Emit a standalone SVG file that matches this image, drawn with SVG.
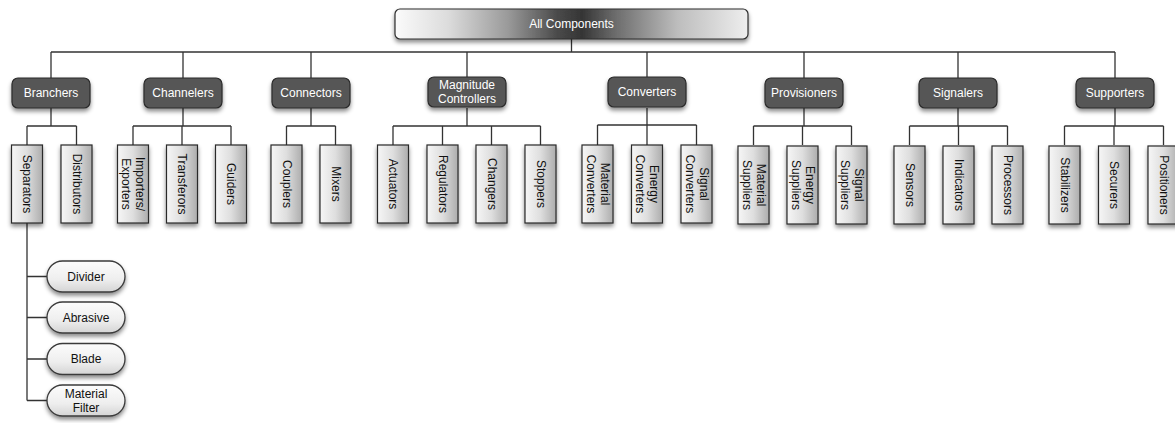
<svg xmlns="http://www.w3.org/2000/svg" width="1175" height="423" viewBox="0 0 1175 423">
<defs>
<linearGradient id="rootGrad" x1="0" y1="0" x2="1" y2="0">
<stop offset="0" stop-color="#fbfbfb"/>
<stop offset="0.15" stop-color="#dcdcdc"/>
<stop offset="0.32" stop-color="#9a9a9a"/>
<stop offset="0.46" stop-color="#4a4a4a"/>
<stop offset="0.53" stop-color="#353535"/>
<stop offset="0.62" stop-color="#6a6a6a"/>
<stop offset="0.8" stop-color="#bdbdbd"/>
<stop offset="1" stop-color="#eeeeee"/>
</linearGradient>
<linearGradient id="leafGrad" x1="0" y1="0" x2="1" y2="0">
<stop offset="0" stop-color="#f6f6f6"/>
<stop offset="0.5" stop-color="#dedede"/>
<stop offset="1" stop-color="#adadad"/>
</linearGradient>
<linearGradient id="pillGrad" x1="0" y1="0" x2="0" y2="1">
<stop offset="0" stop-color="#fcfcfc"/>
<stop offset="0.6" stop-color="#eeeeee"/>
<stop offset="1" stop-color="#d4d4d4"/>
</linearGradient>
<filter id="shadow" x="-20%" y="-20%" width="140%" height="160%">
<feDropShadow dx="0" dy="3" stdDeviation="2" flood-color="#000" flood-opacity="0.45"/>
</filter>
</defs>
<style>
text{font-family:"Liberation Sans",Arial,Helvetica,sans-serif;font-size:12px;}
.root rect{fill:url(#rootGrad);stroke:#2e2e2e;stroke-width:1.2;filter:url(#shadow);}
.root text{fill:#fff;text-anchor:middle;dominant-baseline:central;}
.cat rect{fill:#575757;stroke:#2a2a2a;stroke-width:1.2;filter:url(#shadow);}
.cat text{fill:#fff;text-anchor:middle;dominant-baseline:central;}
.leaf rect{fill:url(#leafGrad);stroke:#2a2a2a;stroke-width:1.2;filter:url(#shadow);}
.leaf text{fill:#111;text-anchor:middle;dominant-baseline:central;}
.pill rect{fill:url(#pillGrad);stroke:#3a3a3a;stroke-width:1.3;filter:url(#shadow);}
.pill text{fill:#111;text-anchor:middle;dominant-baseline:central;}
#connectors path{fill:none;stroke:#333;stroke-width:1.3;}
</style>
<rect width="1175" height="423" fill="#fff"/>
<g id="connectors">
<path d="M571.5,39 V52 M51,52 H1115 M51,52 V78 M183,52 V78 M311,52 V78 M467,52 V78 M647,52 V78 M804,52 V78 M958,52 V78 M1115,52 V78"/>
<path d="M51,108 V126 M27,126 H76.5 M27,126 V145 M76.5,126 V145"/>
<path d="M183,108 V126 M133,126 H231 M133,126 V145 M182,126 V145 M231,126 V145"/>
<path d="M311,108 V126 M286.5,126 H335.5 M286.5,126 V145 M335.5,126 V145"/>
<path d="M467,108 V126 M393,126 H540.5 M393,126 V145 M442.5,126 V145 M491.5,126 V145 M540.5,126 V145"/>
<path d="M647,108 V125 M597.5,125 H696.5 M597.5,125 V145 M647,125 V145 M696.5,125 V145"/>
<path d="M804,108 V126 M753.5,126 H851.5 M753.5,126 V145 M802.5,126 V145 M851.5,126 V145"/>
<path d="M958,108 V126 M909.5,126 H1007.5 M909.5,126 V145 M958.5,126 V145 M1007.5,126 V145"/>
<path d="M1115,108 V126 M1064.5,126 H1163.5 M1064.5,126 V145 M1114,126 V145 M1163.5,126 V145"/>
<path d="M27,223 V400.5 M27,276.5 H47 M27,317.5 H47 M27,359 H47 M27,400.5 H47"/>
</g>
<g id="root" class="root"><rect x="395" y="9" width="353" height="30" rx="5"/><text x="571.5" y="24">All Components</text></g>
<g id="branchers" class="cat"><rect x="12" y="78" width="78" height="30" rx="6"/><text x="51" y="93">Branchers</text></g>
<g id="channelers" class="cat"><rect x="144" y="78" width="78" height="30" rx="6"/><text x="183" y="93">Channelers</text></g>
<g id="connectors-node" class="cat"><rect x="272" y="78" width="78" height="30" rx="6"/><text x="311" y="93">Connectors</text></g>
<g id="magnitude-controllers" class="cat"><rect x="428" y="77" width="78" height="30" rx="6"/><text x="467" y="85">Magnitude</text><text x="467" y="99">Controllers</text></g>
<g id="converters" class="cat"><rect x="608" y="77" width="78" height="30" rx="6"/><text x="647" y="92">Converters</text></g>
<g id="provisioners" class="cat"><rect x="765" y="78" width="78" height="30" rx="6"/><text x="804" y="93">Provisioners</text></g>
<g id="signalers" class="cat"><rect x="919" y="78" width="78" height="30" rx="6"/><text x="958" y="93">Signalers</text></g>
<g id="supporters" class="cat"><rect x="1076" y="78" width="78" height="30" rx="6"/><text x="1115" y="93">Supporters</text></g>
<g id="separators" class="leaf"><rect x="11.5" y="145" width="31" height="78"/><text transform="rotate(90 27 184)" x="27" y="184">Separators</text></g>
<g id="distributors" class="leaf"><rect x="61" y="145" width="31" height="78"/><text transform="rotate(90 76.5 184)" x="76.5" y="184">Distributors</text></g>
<g id="importers-exporters" class="leaf"><rect x="117.5" y="145" width="31" height="78"/><text transform="rotate(90 133 184)" x="133" y="177">Importers/</text><text transform="rotate(90 133 184)" x="133" y="191">Exporters</text></g>
<g id="transferors" class="leaf"><rect x="166.5" y="145" width="31" height="78"/><text transform="rotate(90 182 184)" x="182" y="184">Transferors</text></g>
<g id="guiders" class="leaf"><rect x="215.5" y="145" width="31" height="78"/><text transform="rotate(90 231 184)" x="231" y="184">Guiders</text></g>
<g id="couplers" class="leaf"><rect x="271" y="145" width="31" height="78"/><text transform="rotate(90 286.5 184)" x="286.5" y="184">Couplers</text></g>
<g id="mixers" class="leaf"><rect x="320" y="145" width="31" height="78"/><text transform="rotate(90 335.5 184)" x="335.5" y="184">Mixers</text></g>
<g id="actuators" class="leaf"><rect x="377.5" y="145" width="31" height="78"/><text transform="rotate(90 393 184)" x="393" y="184">Actuators</text></g>
<g id="regulators" class="leaf"><rect x="427" y="145" width="31" height="78"/><text transform="rotate(90 442.5 184)" x="442.5" y="184">Regulators</text></g>
<g id="changers" class="leaf"><rect x="476" y="145" width="31" height="78"/><text transform="rotate(90 491.5 184)" x="491.5" y="184">Changers</text></g>
<g id="stoppers" class="leaf"><rect x="525" y="145" width="31" height="78"/><text transform="rotate(90 540.5 184)" x="540.5" y="184">Stoppers</text></g>
<g id="material-converters" class="leaf"><rect x="582" y="145" width="31" height="78"/><text transform="rotate(90 597.5 184)" x="597.5" y="177">Material</text><text transform="rotate(90 597.5 184)" x="597.5" y="191">Converters</text></g>
<g id="energy-converters" class="leaf"><rect x="631.5" y="145" width="31" height="78"/><text transform="rotate(90 647 184)" x="647" y="177">Energy</text><text transform="rotate(90 647 184)" x="647" y="191">Converters</text></g>
<g id="signal-converters" class="leaf"><rect x="681" y="145" width="31" height="78"/><text transform="rotate(90 696.5 184)" x="696.5" y="177">Signal</text><text transform="rotate(90 696.5 184)" x="696.5" y="191">Converters</text></g>
<g id="material-suppliers" class="leaf"><rect x="738" y="146" width="31" height="78"/><text transform="rotate(90 753.5 185)" x="753.5" y="178">Material</text><text transform="rotate(90 753.5 185)" x="753.5" y="192">Suppliers</text></g>
<g id="energy-suppliers" class="leaf"><rect x="787" y="146" width="31" height="78"/><text transform="rotate(90 802.5 185)" x="802.5" y="178">Energy</text><text transform="rotate(90 802.5 185)" x="802.5" y="192">Suppliers</text></g>
<g id="signal-suppliers" class="leaf"><rect x="836" y="146" width="31" height="78"/><text transform="rotate(90 851.5 185)" x="851.5" y="178">Signal</text><text transform="rotate(90 851.5 185)" x="851.5" y="192">Suppliers</text></g>
<g id="sensors" class="leaf"><rect x="894" y="146" width="31" height="78"/><text transform="rotate(90 909.5 185)" x="909.5" y="185">Sensors</text></g>
<g id="indicators" class="leaf"><rect x="943" y="146" width="31" height="78"/><text transform="rotate(90 958.5 185)" x="958.5" y="185">Indicators</text></g>
<g id="processors" class="leaf"><rect x="992" y="146" width="31" height="78"/><text transform="rotate(90 1007.5 185)" x="1007.5" y="185">Processors</text></g>
<g id="stabilizers" class="leaf"><rect x="1049" y="146" width="31" height="78"/><text transform="rotate(90 1064.5 185)" x="1064.5" y="185">Stabilizers</text></g>
<g id="securers" class="leaf"><rect x="1098.5" y="146" width="31" height="78"/><text transform="rotate(90 1114 185)" x="1114" y="185">Securers</text></g>
<g id="positioners" class="leaf"><rect x="1148" y="146" width="31" height="78"/><text transform="rotate(90 1163.5 185)" x="1163.5" y="185">Positioners</text></g>
<g id="divider" class="pill"><rect x="47" y="261" width="78" height="31" rx="15.5"/><text x="86" y="276.5">Divider</text></g>
<g id="abrasive" class="pill"><rect x="47" y="302" width="78" height="31" rx="15.5"/><text x="86" y="317.5">Abrasive</text></g>
<g id="blade" class="pill"><rect x="47" y="343.5" width="78" height="31" rx="15.5"/><text x="86" y="359">Blade</text></g>
<g id="material-filter" class="pill"><rect x="47" y="385" width="78" height="31" rx="15.5"/><text x="86" y="394">Material</text><text x="86" y="408">Filter</text></g>
</svg>
